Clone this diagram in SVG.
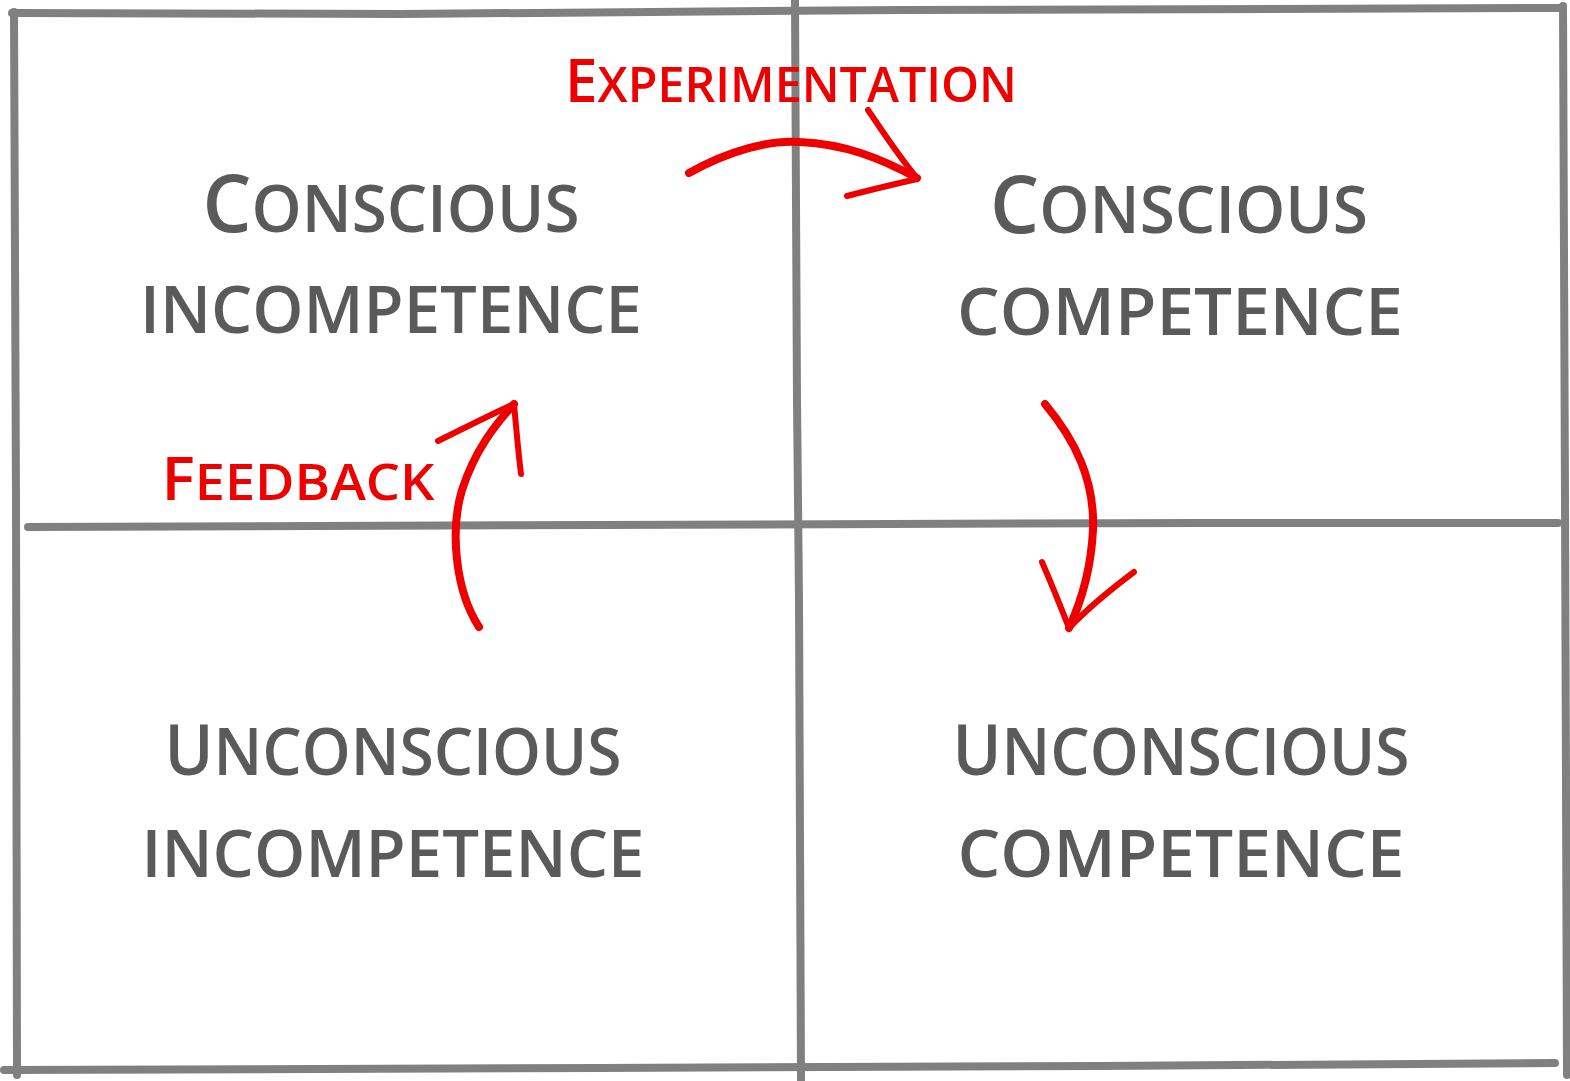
<svg xmlns="http://www.w3.org/2000/svg" width="1570" height="1081" viewBox="0 0 1570 1081">
<style>
.grid{fill:none;stroke:#808080;stroke-width:8;stroke-linecap:round;stroke-linejoin:round}
.q{font-family:"Open Sans","Liberation Sans",sans-serif;font-weight:600;fill:#5a5a5a;text-anchor:middle}
.lbl{font-family:"Open Sans","Liberation Sans",sans-serif;font-weight:600;fill:#ee0000;text-anchor:middle}
.up{text-transform:uppercase}
.arr{fill:none;stroke:#ee0000;stroke-width:8;stroke-linecap:round;stroke-linejoin:round}
.hd{fill:none;stroke:#ee0000;stroke-width:6;stroke-linecap:round;stroke-linejoin:round}
</style>
<rect width="1570" height="1081" fill="#ffffff"/>
<g id="grid">
<path class="grid" d="M12 13 L400 14 L900 10 L1562 8"/>
<path class="grid" d="M14 12 L16 500 L17 1075"/>
<path class="grid" d="M1563 6 L1565 500 L1567 1075"/>
<path class="grid" d="M4 1070 L600 1068 L1100 1066 L1555 1063"/>
<path class="grid" d="M28 527 L600 525 L1200 523 L1558 523"/>
<path class="grid" d="M795 0 L797 400 L799 600 L801 1081"/>
</g>
<g id="node-conscious-incompetence">
<text class="q" x="391" y="232" textLength="377" lengthAdjust="spacingAndGlyphs"><tspan font-size="80">C</tspan><tspan class="up" font-size="66">onscious</tspan></text>
<text class="q up" x="391" y="333" font-size="66" textLength="502" lengthAdjust="spacingAndGlyphs">incompetence</text>
</g>
<g id="node-conscious-competence">
<text class="q" x="1179" y="233" textLength="378" lengthAdjust="spacingAndGlyphs"><tspan font-size="80">C</tspan><tspan class="up" font-size="66">onscious</tspan></text>
<text class="q up" x="1180" y="335" font-size="66" textLength="446" lengthAdjust="spacingAndGlyphs">competence</text>
</g>
<g id="node-unconscious-incompetence">
<text class="q" x="393" y="775" textLength="457" lengthAdjust="spacingAndGlyphs"><tspan font-size="70">U</tspan><tspan class="up" font-size="66">nconscious</tspan></text>
<text class="q up" x="393" y="877" font-size="66" textLength="503" lengthAdjust="spacingAndGlyphs">incompetence</text>
</g>
<g id="node-unconscious-competence">
<text class="q" x="1181" y="775" textLength="457" lengthAdjust="spacingAndGlyphs"><tspan font-size="70">U</tspan><tspan class="up" font-size="66">nconscious</tspan></text>
<text class="q up" x="1181" y="877" font-size="66" textLength="447" lengthAdjust="spacingAndGlyphs">competence</text>
</g>
<g id="connectors">
<g id="edge-experimentation">
<path class="arr" d="M689 173 C730 150 770 140 800 142 C845 144 880 158 917 178"/>
<path class="hd" d="M868 110 C885 135 900 158 917 178"/>
<path class="hd" d="M847 196 C870 190 895 184 917 179"/>
<text class="lbl" x="791" y="102" textLength="452" lengthAdjust="spacingAndGlyphs"><tspan font-size="59">E</tspan><tspan class="up" font-size="49">xperimentation</tspan></text>
</g>
<g id="edge-feedback">
<path class="arr" d="M479 627 C455 590 450 530 462 490 C475 450 495 425 514 404"/>
<path class="hd" d="M438 441 C460 430 490 415 514 404"/>
<path class="hd" d="M514 404 C516 425 518 450 521 474"/>
<text class="lbl" x="298" y="500" textLength="273" lengthAdjust="spacingAndGlyphs"><tspan font-size="59">F</tspan><tspan class="up" font-size="51">eedback</tspan></text>
</g>
<g id="edge-down">
<path class="arr" d="M1045 404 C1075 440 1095 480 1093 530 C1091 570 1082 600 1069 628"/>
<path class="hd" d="M1042 562 C1052 585 1060 605 1069 628"/>
<path class="hd" d="M1134 572 C1110 590 1088 608 1069 628"/>
</g>
</g>
</svg>
